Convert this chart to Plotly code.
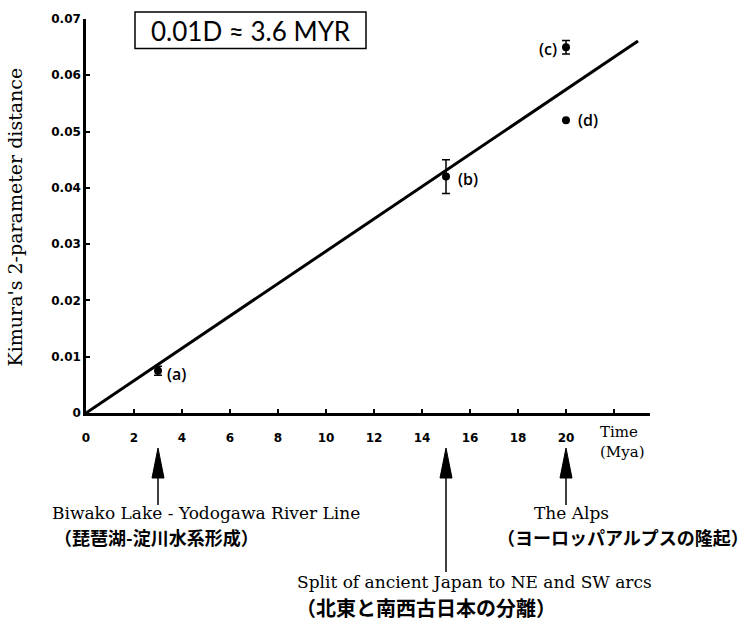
import plotly.graph_objects as go

# ---------------- data ----------------
time_mya = [3, 15, 20, 20]
distance = [0.0075, 0.042, 0.065, 0.052]
distance_err = [0.0008, 0.003, 0.0012, 0.0]
point_labels = ["(a)", "(b)", "(c)", "(d)"]

fit_time = [0, 23]
fit_distance = [0.0, 0.0661]

x_range = [0, 23.5]
y_range = [0, 0.07]
x_tickvals = [0, 2, 4, 6, 8, 10, 12, 14, 16, 18, 20, 22]
x_ticktext = ["0", "2", "4", "6", "8", "10", "12", "14", "16", "18", "20", ""]
y_tickvals = [0, 0.01, 0.02, 0.03, 0.04, 0.05, 0.06, 0.07]
y_ticktext = ["0", "0.01", "0.02", "0.03", "0.04", "0.05", "0.06", "0.07"]

event_time = [3, 15, 20]
event_en = ["Biwako Lake - Yodogawa River Line",
            "Split of ancient Japan to NE and SW arcs",
            "The Alps"]
event_ja = ["（琵琶湖-淀川水系形成）",
            "（北東と南西古日本の分離）",
            "（ヨーロッパアルプスの隆起）"]

rate_text = "0.01D ≈ 3.6 MYR"
y_title = "Kimura's 2-parameter distance"
x_title = "Time<br>(Mya)"

# ---------------- layout helpers ----------------
W, H = 753, 631
L, T = 86, 12                # plot area left / top in pixels
PW = 650 - 86                # plot width
PH = 413 - 12                # plot height
R = W - L - PW
B = H - T - PH


def px_x(X):
    """screen x (pixels) -> paper fraction"""
    return (X - L) / PW


def px_y(Y):
    """screen y (pixels) -> paper fraction"""
    return (T + PH - Y) / PH


def data_to_paper_x(t):
    return (t - x_range[0]) / (x_range[1] - x_range[0])


SERIF = "DejaVu Serif"
SANS = "DejaVu Sans"
CJK = "Noto Sans CJK JP"

fig = go.Figure()

fig.add_trace(go.Scatter(
    x=fit_time, y=fit_distance, mode="lines",
    line=dict(color="black", width=3), showlegend=False, hoverinfo="skip"))

fig.add_trace(go.Scatter(
    x=time_mya, y=distance, mode="markers",
    marker=dict(color="black", size=8),
    error_y=dict(type="data", array=distance_err, visible=True,
                 color="black", thickness=1.5, width=4),
    showlegend=False))

annotations = []
# point labels
label_style = {
    "(a)": dict(xanchor="left", xshift=7, yshift=-3),
    "(b)": dict(xanchor="left", xshift=10, yshift=-2),
    "(c)": dict(xanchor="right", xshift=-7, yshift=-2),
    "(d)": dict(xanchor="left", xshift=10, yshift=0),
}
for t, d, lab in zip(time_mya, distance, point_labels):
    annotations.append(dict(x=t, y=d, xref="x", yref="y", text=lab, yanchor="middle",
                            showarrow=False,
                            font=dict(family="Open Sans", size=16, color="black", weight=600),
                            **label_style[lab]))

# rate box text
annotations.append(dict(x=px_x(251), y=px_y(24), xref="paper", yref="paper",
                        xanchor="center", yanchor="middle",
                        text=rate_text, showarrow=False,
                        font=dict(family="Lato", size=26, color="black")))

# axis titles
annotations.append(dict(x=px_x(15), y=px_y(214), xref="paper", yref="paper",
                        xanchor="center", yanchor="middle",
                        text=y_title, textangle=-90, showarrow=False,
                        font=dict(family=SERIF, size=19, color="black")))
annotations.append(dict(x=px_x(598), y=px_y(443), xref="paper", yref="paper",
                        xanchor="left", yanchor="middle", align="left",
                        text=x_title, showarrow=False,
                        font=dict(family=SERIF, size=15, color="black")))

# event text
en_pos = [dict(x=px_x(50), xanchor="left", y=px_y(515)),
          dict(x=px_x(295), xanchor="left", y=px_y(585)),
          dict(x=px_x(571), xanchor="center", y=px_y(515))]
ja_pos = [dict(x=px_x(52), xanchor="left", y=px_y(539)),
          dict(x=px_x(294), xanchor="left", y=px_y(611)),
          dict(x=px_x(751), xanchor="right", y=px_y(539))]
ja_size = [18, 20, 18]
for en, ja, ep, jp, js in zip(event_en, event_ja, en_pos, ja_pos, ja_size):
    annotations.append(dict(xref="paper", yref="paper", text=en, showarrow=False,
                            yanchor="middle",
                            font=dict(family=SERIF, size=17, color="black"), **ep))
    annotations.append(dict(xref="paper", yref="paper", text=ja, showarrow=False,
                            yanchor="middle",
                            font=dict(family=CJK, size=js, color="black", weight="bold"), **jp))

# arrows (pixel-sized, anchored at the event time on the x axis)
shapes = []
shaft_end = [92, 159, 92]
for t, s in zip(event_time, shaft_end):
    xa = data_to_paper_x(t)
    shapes.append(dict(type="path", xref="paper", yref="paper",
                       xsizemode="pixel", ysizemode="pixel",
                       xanchor=xa, yanchor=0, path="M 0,-35 L -6,-65 L 6,-65 Z",
                       fillcolor="black", line=dict(color="black", width=1)))
    shapes.append(dict(type="path", xref="paper", yref="paper",
                       xsizemode="pixel", ysizemode="pixel",
                       xanchor=xa, yanchor=0, path=f"M 0,-64 L 0,{-s}",
                       line=dict(color="black", width=1.5)))

# rate box
shapes.append(dict(type="rect", xref="paper", yref="paper",
                   x0=px_x(135), x1=px_x(366), y0=px_y(42), y1=px_y(5),
                   line=dict(color="black", width=1.5), fillcolor="rgba(0,0,0,0)"))

tickfont = dict(family=SANS, size=12, color="black", weight="bold")

fig.update_layout(
    width=W, height=H,
    margin=dict(l=L, r=R, t=T, b=B, pad=0),
    paper_bgcolor="white", plot_bgcolor="white",
    showlegend=False,
    annotations=annotations, shapes=shapes,
    xaxis=dict(range=x_range, tickvals=x_tickvals, ticktext=x_ticktext,
               showline=True, linecolor="black", linewidth=3, mirror=False,
               ticks="inside", ticklen=4, tickwidth=1.5, tickcolor="black",
               showgrid=False, zeroline=False, tickfont=tickfont,
               ticklabelstandoff=12, ticklabeloverflow="allow"),
    yaxis=dict(range=y_range, tickvals=y_tickvals, ticktext=y_ticktext,
               showline=True, linecolor="black", linewidth=2.5,
               ticks="inside", ticklen=4, tickwidth=1.5, tickcolor="black",
               showgrid=False, zeroline=False, tickfont=tickfont,
               ticklabeloverflow="allow"),
)

fig.write_html("out.html",
               config={"displayModeBar": False},
               post_script="document.body.style.margin='0';document.body.style.padding='0';")
